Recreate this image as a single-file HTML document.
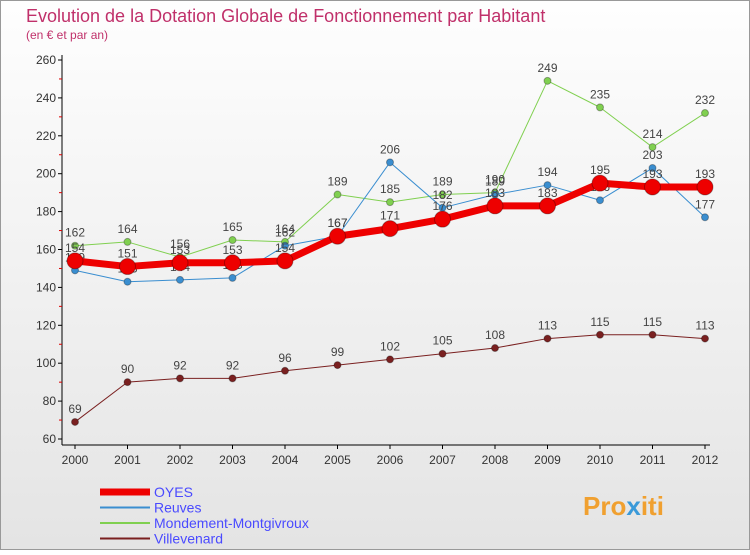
<!DOCTYPE html>
<html><head><meta charset="utf-8"><style>
body{margin:0;width:750px;height:550px;overflow:hidden;font-family:"Liberation Sans",sans-serif}
svg text{font-family:"Liberation Sans",sans-serif}
</style></head><body>
<svg id="c" width="750" height="550" xmlns="http://www.w3.org/2000/svg">
<defs><linearGradient id="bg" x1="0" y1="0" x2="0" y2="1"><stop offset="0" stop-color="#fefefe"/><stop offset="1" stop-color="#e4e4e4"/></linearGradient></defs>
<rect x="0.5" y="0.5" width="749" height="549" fill="url(#bg)" stroke="#999"/>
<text x="26" y="22" font-size="18" fill="#c0306a">Evolution de la Dotation Globale de Fonctionnement par Habitant</text>
<text x="26" y="39" font-size="12" fill="#c0306a">(en € et par an)</text>
<g id="axes"></g><g id="series"></g><g id="legend"></g>
<text x="583" y="515" font-size="26" font-weight="bold" fill="#f0a030">Pro<tspan fill="#3a9ad9">x</tspan>iti</text>
</svg>
<script>
const years=[2000,2001,2002,2003,2004,2005,2006,2007,2008,2009,2010,2011,2012];
const oyes=[154,151,153,153,154,167,171,176,183,183,195,193,193];
const reuves=[149,143,144,145,162,167,206,182,189,194,186,203,177];
const mondement=[162,164,156,165,164,189,185,189,190,249,235,214,232];
const villevenard=[69,90,92,92,96,99,102,105,108,113,115,115,113];
const yTicks=[60,80,100,120,140,160,180,200,220,240,260];
const NS="http://www.w3.org/2000/svg";
const x=i=>75+i*(630/12);
const y=v=>439-(v-60)*(379/200);
function mk(t,a,p){const e=document.createElementNS(NS,t);for(const k in a)e.setAttribute(k,a[k]);p.appendChild(e);return e;}
const ax=document.getElementById('axes');
let l=mk('line',{x1:62,y1:55,x2:62,y2:445,stroke:'#000'},ax);


l=mk('line',{x1:62,y1:445,x2:710,y2:445,stroke:'#000'},ax);


yTicks.forEach((v,i)=>{
 mk('line',{x1:58,x2:62,y1:y(v),y2:y(v),stroke:'#000'},ax);
 if(i<yTicks.length-1)mk('line',{x1:59,x2:62,y1:y(v+10),y2:y(v+10),stroke:'#d00'},ax);
 const t=mk('text',{x:56,y:y(v)+4,'font-size':12,'text-anchor':'end',fill:'#333'},ax);t.textContent=v;
 
 
});
years.forEach((yr,i)=>{
 mk('line',{x1:x(i),x2:x(i),y1:445,y2:449,stroke:'#000'},ax);
 const t=mk('text',{x:x(i),y:464,'font-size':12,'text-anchor':'middle',fill:'#333'},ax);t.textContent=yr;
 
 
});
const sg=document.getElementById('series');
function series(d,col,w,r,name){
 const g=mk('g',{},sg);
 
 
 const p=mk('polyline',{points:d.map((v,i)=>x(i)+','+y(v)).join(' '),fill:'none',stroke:col,'stroke-width':w,'stroke-linejoin':'round'},g);
 
 
 d.forEach((v,i)=>{
  const c=mk('circle',{cx:x(i),cy:y(v),r:r,fill:col,stroke:'rgba(0,0,0,0.3)'},g);
  
  
  const t=mk('text',{x:x(i),y:y(v)-9,'font-size':12,'text-anchor':'middle',fill:'#444'},g);t.textContent=v;
  
  
 });
}
series(villevenard,'#7a2020',1,3.5,'villevenard');
series(mondement,'#80d050',1,3.5,'mondement-montgivroux');
series(reuves,'#3a8ed0',1,3.5,'reuves');
series(oyes,'#ee0000',7,8,'oyes');
const lg=document.getElementById('legend');
const items=[['OYES','#ee0000',7],['Reuves','#3a8ed0',2],['Mondement-Montgivroux','#80d050',2],['Villevenard','#7a2020',2]];
items.forEach((it,i)=>{
 const yy=492+i*15.5;
 const g=mk('g',{},lg);
 
 
 mk('line',{x1:100,x2:150,y1:yy,y2:yy,stroke:it[1],'stroke-width':it[2]},g);
 const t=mk('text',{x:154,y:yy+5,'font-size':14,fill:'#4a4aff'},g);t.textContent=it[0];
});
</script>
</body></html>
